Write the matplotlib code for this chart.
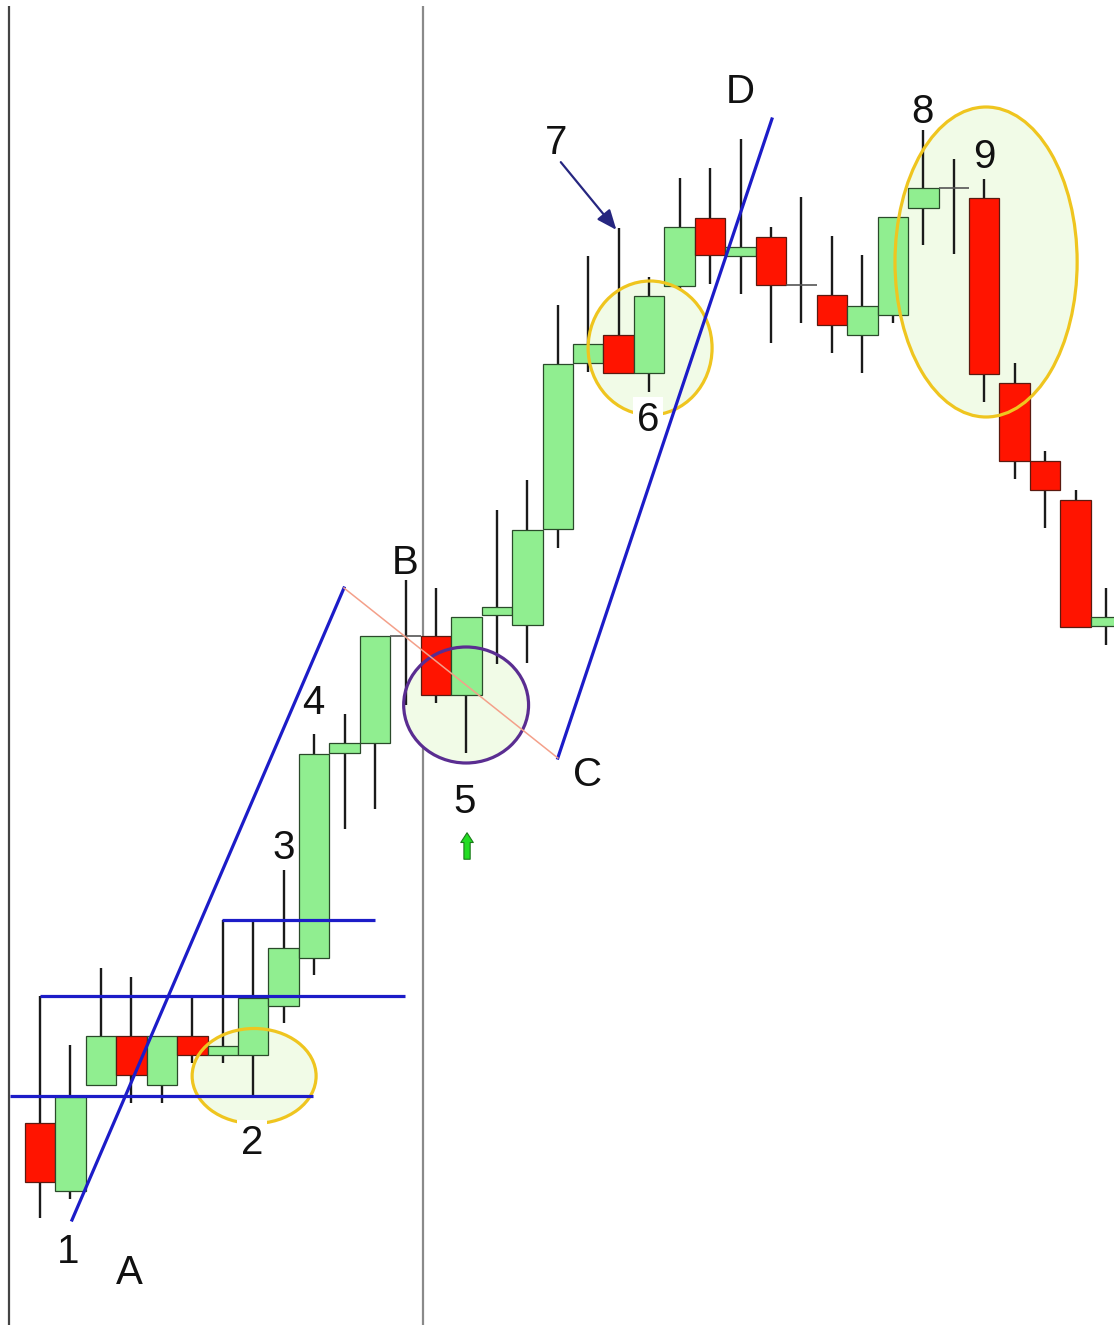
import matplotlib.pyplot as plt
from matplotlib.patches import Ellipse

plt.rcParams['font.family'] = ['Liberation Sans', 'DejaVu Sans']

# candle data (index 0..35), price units
opens = [202, 134, 240, 289, 240, 289, 270, 270, 319, 367, 572, 582,
         689, 689, 630, 710, 700, 796, 962, 990, 952, 1039, 1107, 1069,
         1088, 1040, 1030, 990, 1010, 1117, 1137, 1127, 942, 864, 825, 699]
closes = [143, 228, 289, 250, 289, 270, 279, 327, 377, 571, 582, 689,
          689, 630, 708, 718, 795, 961, 981, 952, 1029, 1098, 1070, 1078,
          1040, 1040, 1000, 1019, 1108, 1137, 1137, 951, 864, 835, 698, 708]
highs = [329, 280, 357, 348, 289, 328, 405, 405, 455, 591, 611, 689,
         745, 737, 708, 815, 845, 1020, 1069, 1097, 1048, 1147, 1157, 1186,
         1098, 1128, 1089, 1070, 1108, 1195, 1166, 1146, 962, 874, 835, 737]
lows = [107, 126, 240, 222, 222, 262, 262, 230, 302, 350, 496, 516,
        620, 622, 572, 661, 662, 777, 953, 952, 933, 1035, 1041, 1031,
        982, 1002, 972, 952, 1002, 1080, 1071, 923, 846, 797, 698, 680]

labels = ['1', 'A', '2', '3', '4', 'B', '5', 'C', '6', '7', 'D', '8', '9']
label_x = [0.92, 2.95, 6.96, 8.01, 8.96, 11.98, 13.95, 17.99, 19.96, 16.94, 22.98, 28.96, 31.0]
label_y = [73, 52, 182, 477, 622, 762, 523, 550, 905, 1182, 1233, 1213, 1168]

BLUE = '#1c1cc8'
GREEN = '#90ee90'
RED = '#ff1400'
YELLOW = '#efc51f'
FILL = '#f1fbe7'

fig = plt.figure(figsize=(11.14, 13.25), dpi=100)
ax = fig.add_axes([0, 0, 1, 1])
ax.set_xlim(-1.313, 35.26)
ax.set_ylim(0, 1325)
ax.axis('off')

# vertical separators
ax.vlines(-1.02, 0, 1319, color='#444444', lw=1.6, zorder=1)
ax.vlines(12.57, 0, 1319, color='#8a8a8a', lw=1.6, zorder=1)

# ellipse fills (behind candles)
ellipses = [(7.03, 249, 4.07, 95, YELLOW), (20.03, 977, 4.07, 134, YELLOW),
            (31.06, 1063, 5.98, 310, YELLOW), (13.99, 620, 4.10, 116, '#5a2d91')]
for cx, cy, w, h, col in ellipses:
    ax.add_patch(Ellipse((cx, cy), w, h, facecolor=FILL, edgecolor='none', zorder=2))

# candles
for i in range(len(opens)):
    o, c = opens[i], closes[i]
    ax.vlines(i, lows[i], highs[i], color='#1a1a1a', lw=1.7, zorder=3)
    if o == c:
        ax.hlines(o, i - 0.5, i + 0.5, color='#555555', lw=1.2, zorder=4)
    else:
        col = GREEN if c > o else RED
        ax.bar(i, abs(c - o), bottom=min(o, c), width=1.0, color=col,
               edgecolor='#2a4a2a' if c > o else '#5a1a10', lw=0.9, zorder=4)

# ellipse outlines (on top)
for cx, cy, w, h, col in ellipses:
    ax.add_patch(Ellipse((cx, cy), w, h, facecolor='none', edgecolor=col, lw=2.3, zorder=6))

# trend lines
ax.plot([1.05, 9.98], [105, 737], color=BLUE, lw=2.3, zorder=7)
ax.plot([17.0, 24.03], [567, 1206], color=BLUE, lw=2.3, zorder=7)
ax.plot([9.98, 17.0], [737, 567], color='#f4a08a', lw=1.1, zorder=7)
ax.hlines(229, -0.98, 8.96, color=BLUE, lw=2.3, zorder=7)
ax.hlines(329, 0, 11.98, color=BLUE, lw=2.3, zorder=7)
ax.hlines(405, 5.98, 11.0, color=BLUE, lw=2.3, zorder=7)

# arrow for 7
ax.annotate('', xy=(18.98, 1093), xytext=(17.04, 1165),
            arrowprops=dict(arrowstyle='-|>,head_length=1.2,head_width=0.5',
                            color='#262680', lw=1.6), zorder=8)

# small green up arrow under 5
ax.annotate('', xy=(14.02, 495), xytext=(14.02, 463),
            arrowprops=dict(arrowstyle='simple,head_length=0.7,head_width=0.9,tail_width=0.45',
                            facecolor='#22dd22', edgecolor='#1a7a1a', lw=0.8), zorder=8)

for t, x, y in zip(labels, label_x, label_y):
    bbox = dict(facecolor='white', edgecolor='none', pad=3) if t in ('2', '6') else None
    ax.text(x, y, t, fontsize=29, ha='center', va='center', color='#111111',
            bbox=bbox, zorder=6.5)

fig.savefig('out.png', dpi=100)
